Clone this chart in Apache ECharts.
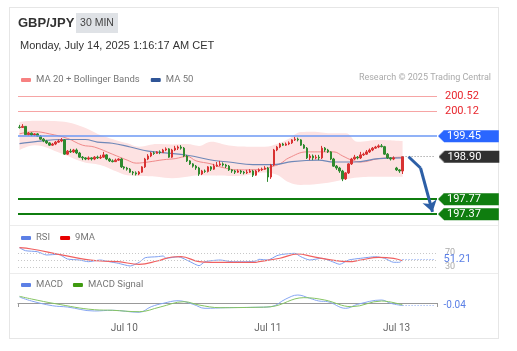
<!DOCTYPE html>
<html>
<head>
<meta charset="utf-8">
<script src="https://cdn.jsdelivr.net/npm/echarts@6/dist/echarts.min.js"></script>
<style>
html, body { margin: 0; padding: 0; background: #fff; }
#wrap { position: relative; width: 517px; height: 351px; }
.card { position: absolute; left: 9px; top: 7px; width: 490px; height: 332px; border: 1px solid #e6e6e6; box-sizing: border-box; }
.sep { position: absolute; left: 10px; width: 488px; height: 1px; background: #ececec; }
#chart { position: absolute; left: 0; top: 0; width: 517px; height: 351px; }
</style>
</head>
<body>
<div id="wrap">
  <div class="card"></div>
  <div class="sep" style="top:225px"></div>
  <div class="sep" style="top:273px"></div>
  <div id="chart"></div>
</div>
<script>
// 30 min candles, [open, close, low, high]
var candles = [
    [199.69,199.68,199.65,199.75],[199.68,199.71,199.67,199.77],[199.71,199.49,199.48,199.72],[199.49,199.53,199.47,199.56],
    [199.53,199.48,199.45,199.55],[199.48,199.51,199.45,199.53],[199.51,199.45,199.43,199.53],[199.45,199.37,199.35,199.48],
    [199.37,199.32,199.29,199.40],[199.32,199.27,199.24,199.35],[199.27,199.21,199.19,199.29],[199.21,199.24,199.19,199.27],
    [199.24,199.29,199.21,199.32],[199.29,199.32,199.27,199.36],[199.32,199.35,199.29,199.40],[199.35,198.97,198.95,199.37],
    [198.97,199.05,198.95,199.08],[199.05,199.03,199.00,199.11],[199.03,199.08,199.00,199.11],[199.08,199.00,198.97,199.12],
    [199.00,198.89,198.87,199.03],[198.89,198.87,198.81,198.92],[198.87,198.84,198.81,198.89],[198.84,198.87,198.81,198.91],
    [198.87,198.84,198.80,198.89],[198.84,198.89,198.81,198.92],[198.89,198.87,198.84,198.93],[198.87,198.89,198.84,198.95],
    [198.89,198.95,198.87,199.03],[198.95,198.84,198.81,198.97],[198.84,198.79,198.76,198.87],[198.79,198.77,198.75,198.83],
    [198.77,198.81,198.76,198.85],[198.81,198.84,198.79,198.86],[198.84,198.63,198.60,198.87],[198.63,198.60,198.56,198.65],
    [198.60,198.57,198.53,198.63],[198.57,198.49,198.47,198.60],[198.49,198.47,198.41,198.52],[198.47,198.44,198.40,198.51],
    [198.44,198.49,198.41,198.52],[198.49,198.63,198.47,198.65],[198.63,198.84,198.60,198.87],[198.84,198.92,198.81,198.97],
    [198.92,199.00,198.89,199.03],[199.00,198.99,198.95,199.04],[198.99,199.03,198.98,199.05],[199.03,199.01,198.97,199.07],
    [199.01,199.08,199.00,199.11],[199.08,199.11,199.05,199.15],[199.11,198.89,198.87,199.13],[198.89,199.08,198.87,199.11],
    [199.08,199.13,199.05,199.19],[199.13,199.16,199.08,199.20],[199.16,199.13,199.09,199.21],[199.13,198.92,198.89,199.16],
    [198.92,198.79,198.76,198.95],[198.79,198.71,198.68,198.81],[198.71,198.65,198.61,198.73],[198.65,198.60,198.55,198.68],
    [198.60,198.44,198.39,198.63],[198.44,198.52,198.41,198.55],[198.52,198.51,198.47,198.56],[198.51,198.63,198.48,198.65],
    [198.63,198.57,198.52,198.65],[198.57,198.65,198.55,198.71],[198.65,198.68,198.63,198.76],[198.68,198.71,198.65,198.79],
    [198.71,198.68,198.64,198.75],[198.68,198.65,198.60,198.71],[198.65,198.55,198.52,198.68],[198.55,198.52,198.47,198.57],
    [198.52,198.49,198.44,198.55],[198.49,198.52,198.47,198.56],[198.52,198.49,198.44,198.55],[198.49,198.47,198.43,198.52],
    [198.47,198.49,198.44,198.55],[198.49,198.52,198.47,198.57],[198.52,198.41,198.36,198.55],[198.41,198.52,198.39,198.55],
    [198.52,198.55,198.49,198.59],[198.55,198.57,198.52,198.61],[198.57,198.60,198.55,198.65],[198.60,198.36,198.23,198.63],
    [198.36,198.68,198.31,198.71],[198.68,199.08,198.65,199.11],[199.08,199.16,199.05,199.19],[199.16,199.24,199.13,199.27],
    [199.24,199.21,199.19,199.27],[199.21,199.24,199.19,199.28],[199.24,199.27,199.21,199.31],[199.27,199.35,199.24,199.37],
    [199.35,199.37,199.32,199.43],[199.37,199.35,199.31,199.41],[199.35,199.21,199.19,199.37],[199.21,199.13,199.11,199.24],
    [199.13,198.87,198.84,199.16],[198.87,198.92,198.81,198.97],[198.92,198.87,198.81,198.96],[198.87,198.89,198.83,198.95],
    [198.89,198.87,198.81,198.95],[198.87,199.13,198.84,199.19],[199.13,199.08,199.03,199.16],[199.08,199.03,199.00,199.11],
    [199.03,198.84,198.81,199.05],[198.84,198.65,198.63,198.87],[198.65,198.60,198.55,198.68],[198.60,198.52,198.47,198.63],
    [198.52,198.31,198.25,198.55],[198.31,198.47,198.28,198.49],[198.47,198.71,198.44,198.73],[198.71,198.84,198.68,198.87],
    [198.84,198.89,198.81,198.95],[198.89,198.87,198.83,198.92],[198.87,198.95,198.84,199.03],[198.95,198.97,198.92,199.01],
    [198.97,199.03,198.95,199.08],[199.03,199.08,199.00,199.12],[199.08,199.13,199.05,199.16],[199.13,199.16,199.11,199.19],
    [199.16,199.19,199.13,199.23],[199.19,199.17,199.15,199.24],[199.17,198.97,198.95,199.19],[198.97,198.87,198.84,199.00],
    [198.87,198.84,198.80,198.89],[198.84,198.87,198.81,198.91],[198.60,198.55,198.52,198.63],[198.55,198.52,198.47,198.57],
    [198.52,198.90,198.44,198.92]
];

// indicator readings, [candle index, value]
var ma20 = [[0,199.51],[5,199.57],[10,199.51],[16,199.39],[21,199.21],[25,199.16],[31,198.97],[36,198.81],[39,198.73],[43,198.76],
    [48,198.82],[52,198.85],[56,198.91],[59,198.79],[64,198.71],[67,198.63],[73,198.55],[81,198.56],[84,198.63],[87,198.71],
    [90,198.87],[96,199.03],[101,199.03],[105,199.03],[108,198.92],[111,198.81],[114,198.76],[120,198.85],[128,198.89]];
var ma50 = [[0,199.25],[6,199.31],[14,199.36],[22,199.36],[26,199.29],[31,199.26],[37,199.16],[43,199.05],[56,198.94],[65,198.80],
    [70,198.76],[78,198.69],[85,198.69],[91,198.77],[100,198.81],[105,198.76],[112,198.76],[120,198.85],[128,198.87]];
var bbIdx = [0,5,14,21,27,32,36,40,46,51,56,60,64,70,76,82,86,90,94,98,104,109,113,120,128];
var bbUpper = [199.83,199.86,199.84,199.70,199.48,199.35,199.26,199.17,199.24,199.23,199.24,199.19,199.30,199.20,199.17,199.17,
    199.24,199.38,199.56,199.57,199.53,199.53,199.30,199.35,199.32];
var bbLower = [199.08,199.21,198.99,198.77,198.68,198.52,198.41,198.39,198.37,198.33,198.37,198.41,198.40,198.39,198.41,198.48,
    198.42,198.22,198.15,198.16,198.22,198.30,198.35,198.37,198.37];

var rsi = [[0,85],[2,76.6],[6,73.7],[9,64.3],[13,66.3],[16,52.9],[20,50],[23,45.1],[27,50],[30,45.1],[33,40.6],[37,32.9],[40,43.4],
    [42,56.6],[46,59.4],[48,61.4],[49,54.9],[53,59.4],[57,45.1],[60,33.7],[62,45.1],[67,50],[71,45.1],[76,45.1],[79,47.1],[80,52],
    [83,50],[86,62.3],[88,66.3],[92,69.1],[94,59.4],[97,50],[101,54.9],[104,47.1],[107,37.7],[110,50],[114,54.9],[119,59.4],
    [122,54.9],[125,43.4],[127,43.4],[128,51.21]];
var rsiMa = [[0,85.1],[4,81.4],[13,66.3],[20,54.9],[27,47.1],[33,45.1],[40,37.7],[46,47.1],[51,58.6],[54,59.4],[60,45.1],[64,43.4],
    [71,43.4],[79,43.4],[80,45.1],[87,54.9],[93,67.1],[98,59.4],[103,52],[110,45.1],[114,50],[120,57.7],[125,54.9],[128,48]];
var macd = [[0,0.092],[4,0.031],[11,-0.042],[16,-0.062],[25,-0.123],[31,-0.112],[40,-0.143],[44,-0.057],[48,-0.005],[53,0.035],
    [58,-0.02],[62,-0.082],[69,-0.072],[79,-0.066],[84,-0.057],[89,0.062],[93,0.123],[97,0.072],[100,0.031],[103,0.02],
    [109,-0.082],[113,-0.02],[121,0.046],[124,-0.005],[128,-0.04]];
var macdSignal = [[0,0.103],[4,0.062],[12,-0.011],[25,-0.103],[31,-0.112],[40,-0.134],[47,-0.062],[55,0.02],[60,-0.031],[67,-0.072],
    [79,-0.066],[84,-0.057],[95,0.082],[102,0.046],[111,-0.057],[121,0.031],[128,-0.031]];

var lastIdx = 128;
var lastPrice = 198.90;
var lastRsi = 51.21;
var lastMacd = -0.04;
var resistances = [200.52, 200.12];
var pivot = 199.45;
var supports = [197.77, 197.37];
// forecast arrow path, [candle index, price]
var arrowPath = [[130, 198.90], [134, 198.60], [138, 197.43]];

var slotCount = 140;
var xTickIdx = [35, 83, 126];
var xTickText = ['Jul 10', 'Jul 11', 'Jul 13'];

var categories = [];
for (var i = 0; i < slotCount; i++) categories.push(String(i));
var bbLowerData = bbIdx.map(function (x, k) { return [x, bbLower[k]]; });
var bbWidthData = bbIdx.map(function (x, k) { return [x, +(bbUpper[k] - bbLower[k]).toFixed(2)]; });

var FONT = 'Roboto, "Liberation Sans", sans-serif';
var C = {
    up: '#d83232',
    down: '#2f8a2f',
    ma20: '#f08a8a',
    band: '#fde2e2',
    ma50: '#6f88b8',
    res: '#f6a5a5',
    resText: '#e8262d',
    pivot: '#2a66ff',
    last: '#303030',
    sup: '#0f7d0f',
    arrow: '#2d5fa6',
    rsi: '#7d9ff0',
    rsiMa: '#f06060',
    macd: '#86a6f2',
    signal: '#86c463',
    axis: '#999'
};

/**
 * Small left pointing triangle used as the pointer of a price tag.
 * @param {string} color
 * @returns {HTMLCanvasElement}
 */
function pointer(color) {
    var cv = document.createElement('canvas');
    cv.width = 6;
    cv.height = 12;
    var ctx = cv.getContext('2d');
    ctx.fillStyle = color;
    ctx.beginPath();
    ctx.moveTo(0, 6);
    ctx.lineTo(6, 0);
    ctx.lineTo(6, 12);
    ctx.closePath();
    ctx.fill();
    return cv;
}

function tag(color, text, distance) {
    return {
        show: true,
        position: 'end',
        distance: distance || 0,
        formatter: '{t|}{v|' + text + '}',
        rich: {
            t: { width: 6, height: 12, backgroundColor: { image: pointer(color) } },
            v: { backgroundColor: color, color: '#fff', fontSize: 11, lineHeight: 12, height: 12, padding: [0, 18, 0, 3], fontFamily: FONT }
        }
    };
}

function plainLabel(color, text, size) {
    return { show: true, position: 'end', distance: 8, color: color, fontSize: size || 11, fontFamily: FONT, formatter: text };
}

var chart = echarts.init(document.getElementById('chart'));

var levelLines = [
    { yAxis: resistances[0], lineStyle: { color: C.res, width: 1, type: 'solid' }, label: plainLabel(C.resText, resistances[0].toFixed(2)) },
    { yAxis: resistances[1], lineStyle: { color: C.res, width: 1, type: 'solid' }, label: plainLabel(C.resText, resistances[1].toFixed(2)) },
    { yAxis: pivot, lineStyle: { color: '#6d98f5', width: 1.5, type: 'solid' }, label: tag(C.pivot, pivot.toFixed(2), 1) },
    { yAxis: supports[0], lineStyle: { color: C.sup, width: 2, type: 'solid' }, label: tag(C.sup, supports[0].toFixed(2), 1) },
    { yAxis: supports[1], lineStyle: { color: C.sup, width: 2, type: 'solid' }, label: tag(C.sup, supports[1].toFixed(2), 1) },
    [
        { coord: [lastIdx, lastPrice], lineStyle: { color: '#888', width: 1, type: [1, 2] }, label: tag(C.last, lastPrice.toFixed(2), 3) },
        { coord: [slotCount - 1, lastPrice] }
    ],
    [
        { coord: arrowPath[0], symbol: 'none', lineStyle: { color: C.arrow, width: 3, type: 'solid' }, label: { show: false } },
        { coord: arrowPath[1], symbol: 'none' }
    ],
    [
        { coord: arrowPath[1], symbol: 'none', lineStyle: { color: C.arrow, width: 3, type: 'solid' }, label: { show: false } },
        { coord: arrowPath[2], symbol: 'arrow', symbolSize: 11 }
    ]
];

var option = {
    animation: false,
    textStyle: { fontFamily: FONT },
    graphic: [
        { type: 'text', x: 18, y: 23, style: { text: 'GBP/JPY', fontSize: 13, fontWeight: 'bold', fill: '#333', fontFamily: '"Liberation Sans", Arial, sans-serif', verticalAlign: 'middle' } },
        { type: 'rect', x: 76, y: 13, shape: { width: 42, height: 20 }, style: { fill: '#dfe2e6' } },
        { type: 'text', x: 97, y: 23, style: { text: '30 MIN', fontSize: 10.5, fill: '#444', fontFamily: '"Liberation Sans", Arial, sans-serif', align: 'center', verticalAlign: 'middle' } },
        { type: 'text', x: 20, y: 46, style: { text: 'Monday, July 14, 2025 1:16:17 AM CET', fontSize: 11, fill: '#333', fontFamily: '"Liberation Sans", Arial, sans-serif', verticalAlign: 'middle' } },
        { type: 'text', x: 491, y: 78, style: { text: 'Research \u00A9 2025 Trading Central', fontSize: 9, fill: '#aaa', fontFamily: FONT, align: 'right', verticalAlign: 'middle' } }
    ],
    legend: [
        {
            left: 16, top: 70, icon: 'roundRect', itemWidth: 10, itemHeight: 4, itemGap: 11,
            textStyle: { color: '#777', fontSize: 9.5 },
            data: [
                { name: 'MA 20 + Bollinger Bands', itemStyle: { color: '#f78181' } },
                { name: 'MA 50', itemStyle: { color: '#2f5597' } }
            ]
        },
        {
            left: 16, top: 228, icon: 'roundRect', itemWidth: 10, itemHeight: 4, itemGap: 10,
            textStyle: { color: '#777', fontSize: 9.5 },
            data: [
                { name: 'RSI', itemStyle: { color: '#5c80e6' } },
                { name: '9MA', itemStyle: { color: '#e80000' } }
            ]
        },
        {
            left: 16, top: 275, icon: 'roundRect', itemWidth: 10, itemHeight: 4, itemGap: 10,
            textStyle: { color: '#777', fontSize: 9.5 },
            data: [
                { name: 'MACD', itemStyle: { color: '#5c80e6' } },
                { name: 'MACD Signal', itemStyle: { color: '#3f9a10' } }
            ]
        }
    ],
    grid: [
        { left: 18, right: 80, top: 85.5, height: 135, outerBoundsMode: 'none' },
        { left: 18, right: 80, top: 242.5, height: 28, outerBoundsMode: 'none' },
        { left: 18, right: 80, top: 290, height: 26, outerBoundsMode: 'none' }
    ],
    xAxis: [
        { type: 'category', gridIndex: 0, data: categories, boundaryGap: true, show: false },
        { type: 'category', gridIndex: 1, data: categories, boundaryGap: true, show: false },
        {
            type: 'category', gridIndex: 2, data: categories, boundaryGap: true,
            axisLine: { show: true, lineStyle: { color: C.axis, width: 1 } },
            axisTick: { show: true, length: 4, lineStyle: { color: C.axis }, interval: function (idx) { return idx === 0; } },
            axisLabel: {
                color: '#666', fontSize: 10, margin: 7,
                interval: function (idx) { return xTickIdx.indexOf(idx) >= 0; },
                formatter: function (v, idx) { var k = xTickIdx.indexOf(idx); return k >= 0 ? xTickText[k] : ''; }
            },
            splitLine: { show: false }
        }
    ],
    yAxis: [
        { type: 'value', gridIndex: 0, min: 197.2, max: 200.8, show: false },
        {
            type: 'value', gridIndex: 1, min: 20, max: 100, interval: 10, position: 'right',
            axisLine: { show: false }, axisTick: { show: false }, splitLine: { show: false },
            axisLabel: {
                color: '#aaa', fontSize: 9, margin: 8,
                formatter: function (v) { return (v === 70 || v === 30) ? String(v) : ''; }
            }
        },
        { type: 'value', gridIndex: 2, min: -0.2, max: 0.2, show: false }
    ],
    series: [
        {
            name: 'bbLower', type: 'line', xAxisIndex: 0, yAxisIndex: 0, stack: 'bb', smooth: 0.4, z: 1,
            data: bbLowerData, symbol: 'none', lineStyle: { opacity: 0 }, silent: true
        },
        {
            name: 'bbWidth', type: 'line', xAxisIndex: 0, yAxisIndex: 0, stack: 'bb', smooth: 0.4, z: 1,
            data: bbWidthData, symbol: 'none', lineStyle: { opacity: 0 }, areaStyle: { color: C.band, opacity: 1 }, silent: true
        },
        {
            name: 'MA 20 + Bollinger Bands', type: 'line', xAxisIndex: 0, yAxisIndex: 0, smooth: 0.4, z: 2,
            data: ma20, symbol: 'none', lineStyle: { color: C.ma20, width: 1 }, itemStyle: { color: '#f78181' }
        },
        {
            name: 'MA 50', type: 'line', xAxisIndex: 0, yAxisIndex: 0, smooth: 0.4, z: 2,
            data: ma50, symbol: 'none', lineStyle: { color: C.ma50, width: 1.2 }, itemStyle: { color: '#2f5597' }
        },
        {
            name: 'GBP/JPY', type: 'candlestick', xAxisIndex: 0, yAxisIndex: 0, data: candles, barWidth: 2, z: 4,
            itemStyle: { color: C.up, color0: C.down, borderColor: C.up, borderColor0: C.down, borderWidth: 1 },
            markLine: { silent: true, symbol: 'none', animation: false, data: levelLines }
        },
        {
            name: 'RSI', type: 'line', xAxisIndex: 1, yAxisIndex: 1, data: rsi, symbol: 'none', smooth: 0.2,
            lineStyle: { color: C.rsi, width: 1 }, itemStyle: { color: '#5c80e6' },
            markLine: {
                silent: true, symbol: 'none', animation: false,
                data: [
                    { yAxis: 70, lineStyle: { color: '#c8c8c8', width: 1, type: [1, 2] }, label: { show: false } },
                    { yAxis: 50, lineStyle: { color: '#c8c8c8', width: 1, type: [1, 2] }, label: { show: false } },
                    { yAxis: 30, lineStyle: { color: '#c8c8c8', width: 1, type: [1, 2] }, label: { show: false } },
                    [
                        { coord: [lastIdx, lastRsi], lineStyle: { color: C.rsi, width: 1, type: [1, 2] }, label: plainLabel('#5c80e6', lastRsi.toFixed(2), 11) },
                        { coord: [slotCount - 1, lastRsi] }
                    ]
                ]
            }
        },
        {
            name: '9MA', type: 'line', xAxisIndex: 1, yAxisIndex: 1, data: rsiMa, symbol: 'none', smooth: 0.4,
            lineStyle: { color: C.rsiMa, width: 1.2 }, itemStyle: { color: '#e80000' }
        },
        {
            name: 'MACD', type: 'line', xAxisIndex: 2, yAxisIndex: 2, data: macd, symbol: 'none', smooth: 0.4,
            lineStyle: { color: C.macd, width: 1 }, itemStyle: { color: '#5c80e6' },
            markLine: {
                silent: true, symbol: 'none', animation: false,
                data: [[
                    { coord: [lastIdx, lastMacd], lineStyle: { color: C.macd, width: 1, type: [1, 2] }, label: plainLabel('#5c80e6', lastMacd.toFixed(2), 10) },
                    { coord: [slotCount - 1, lastMacd] }
                ]]
            }
        },
        {
            name: 'MACD Signal', type: 'line', xAxisIndex: 2, yAxisIndex: 2, data: macdSignal, symbol: 'none', smooth: 0.4,
            lineStyle: { color: C.signal, width: 1 }, itemStyle: { color: '#3f9a10' }
        }
    ]
};

chart.setOption(option);
</script>
</body>
</html>
